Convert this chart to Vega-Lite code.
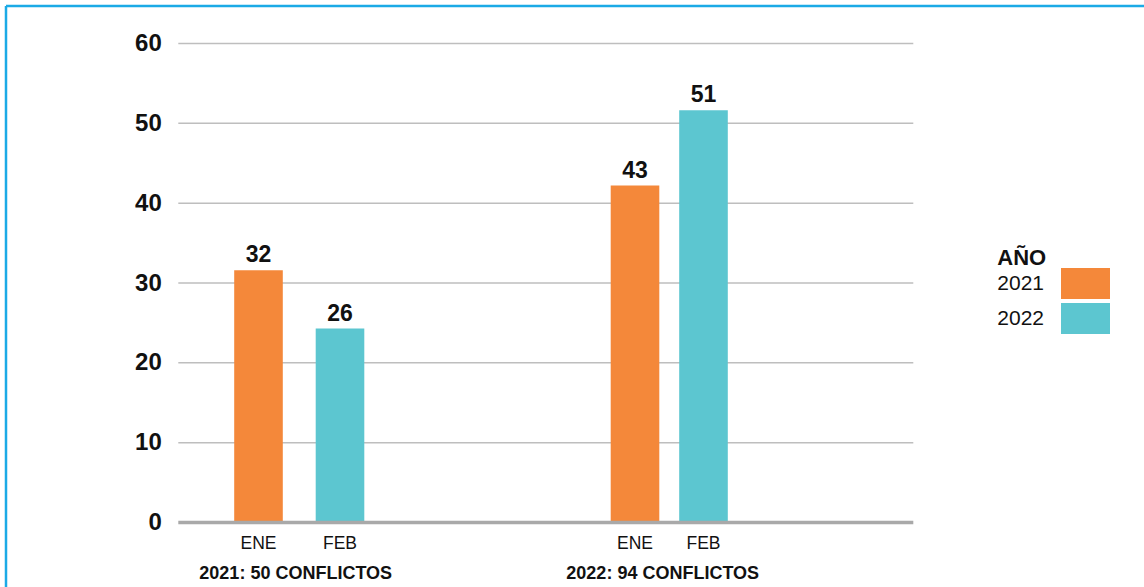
{
  "$schema": "https://vega.github.io/schema/vega-lite/v6.json",
  "usermeta": {"embedOptions": {"actions": false}},
  "width": 1138,
  "height": 581,
  "autosize": {"type": "none"},
  "padding": {"left": 6, "top": 6, "right": 0, "bottom": 0},
  "background": "white",
  "config": {
    "font": "Liberation Sans",
    "view": {"stroke": "#1BAAE6", "strokeWidth": 2.5, "strokeDash": [1138, 1719, 581, 0]},
    "text": {"color": "#111111"}
  },
  "datasets": {
    "barras": [
      {"grupo": "2021: 50 CONFLICTOS", "mes": "ENE", "valor": 31.6, "etiqueta": "32"},
      {"grupo": "2021: 50 CONFLICTOS", "mes": "FEB", "valor": 24.3, "etiqueta": "26"},
      {"grupo": "2022: 94 CONFLICTOS", "mes": "ENE", "valor": 42.2, "etiqueta": "43"},
      {"grupo": "2022: 94 CONFLICTOS", "mes": "FEB", "valor": 51.65, "etiqueta": "51"}
    ],
    "lineas": [{"valor": 10}, {"valor": 20}, {"valor": 30}, {"valor": 40}, {"valor": 50}, {"valor": 60}],
    "base": [{"valor": 0}],
    "grupos": [{"grupo": "2021: 50 CONFLICTOS"}, {"grupo": "2022: 94 CONFLICTOS"}]
  },
  "resolve": {"scale": {"x": "independent"}},
  "layer": [
    {
      "data": {"name": "lineas"},
      "mark": {"type": "rule", "color": "#BEBEBE", "strokeWidth": 1.5},
      "encoding": {
        "y": {
          "field": "valor",
          "type": "quantitative",
          "scale": {"domain": [0, 60], "range": [516.5, 37.5], "zero": true, "nice": false},
          "axis": {
            "orient": "left",
            "offset": -172.3,
            "values": [0, 10, 20, 30, 40, 50, 60],
            "title": null,
            "grid": false,
            "domain": false,
            "ticks": false,
            "tickSize": 0,
            "labelPadding": 17,
            "labelFontSize": 24,
            "labelFontWeight": "bold",
            "labelColor": "#111111",
            "labelFont": "Liberation Sans",
            "labelBaseline": "middle",
            "labelFlush": false,
            "labelOverlap": false,
            "labelBound": false
          }
        },
        "x": {"datum": 0, "type": "quantitative", "scale": {"domain": [0, 1], "range": [172.3, 907.3]}, "axis": null},
        "x2": {"datum": 1}
      }
    },
    {
      "data": {"name": "barras"},
      "transform": [{"filter": "datum.grupo == '2021: 50 CONFLICTOS'"}],
      "encoding": {
        "x": {"field": "mes", "type": "nominal", "scale": {"type": "point", "domain": ["ENE", "FEB"], "range": [252.5, 334], "padding": 0}, "axis": null}
      },
      "layer": [
        {
          "mark": {"type": "bar", "width": 48.6},
          "encoding": {
            "y": {"field": "valor", "type": "quantitative"},
            "color": {
              "field": "mes",
              "type": "nominal",
              "scale": {"domain": ["ENE", "FEB"], "range": ["#F4883A", "#5CC6D0"]},
              "legend": {
                "title": "AÑO",
                "orient": "none",
                "legendX": 991.3,
                "legendY": 242,
                "direction": "vertical",
                "padding": 0,
                "titleFont": "Liberation Sans",
                "titleFontSize": 22,
                "titleFontWeight": "bold",
                "titleColor": "#111111",
                "titlePadding": -2,
                "labelFont": "Liberation Sans",
                "labelFontSize": 21,
                "labelColor": "#111111",
                "labelExpr": "datum.label == 'ENE' ? '2021' : '2022'",
                "symbolType": "M-1.5806,-1H1.5806V1H-1.5806Z",
                "symbolSize": 961,
                "symbolStrokeWidth": 0,
                "symbolOpacity": 1,
                "symbolOffset": 72.7,
                "labelOffset": -103.7,
                "rowPadding": 4
              }
            }
          }
        },
        {
          "mark": {"type": "text", "baseline": "alphabetic", "dy": -8, "fontSize": 23, "fontWeight": "bold"},
          "encoding": {"y": {"field": "valor", "type": "quantitative"}, "text": {"field": "etiqueta"}}
        },
        {
          "mark": {"type": "text", "baseline": "alphabetic", "dy": 26.2, "fontSize": 17.5},
          "encoding": {"y": {"datum": 0, "type": "quantitative"}, "text": {"field": "mes"}}
        }
      ]
    },
    {
      "data": {"name": "barras"},
      "transform": [{"filter": "datum.grupo == '2022: 94 CONFLICTOS'"}],
      "encoding": {
        "x": {"field": "mes", "type": "nominal", "scale": {"type": "point", "domain": ["ENE", "FEB"], "range": [629, 697.5], "padding": 0}, "axis": null}
      },
      "layer": [
        {
          "mark": {"type": "bar", "width": 48.6},
          "encoding": {
            "y": {"field": "valor", "type": "quantitative"},
            "color": {"field": "mes", "type": "nominal"}
          }
        },
        {
          "mark": {"type": "text", "baseline": "alphabetic", "dy": -8, "fontSize": 23, "fontWeight": "bold"},
          "encoding": {"y": {"field": "valor", "type": "quantitative"}, "text": {"field": "etiqueta"}}
        },
        {
          "mark": {"type": "text", "baseline": "alphabetic", "dy": 26.2, "fontSize": 17.5},
          "encoding": {"y": {"datum": 0, "type": "quantitative"}, "text": {"field": "mes"}}
        }
      ]
    },
    {
      "data": {"name": "base"},
      "mark": {"type": "rule", "color": "#A9A9A9", "strokeWidth": 3.5},
      "encoding": {
        "y": {"field": "valor", "type": "quantitative"},
        "x": {"datum": 0, "type": "quantitative", "scale": {"domain": [0, 1], "range": [172.3, 907.3]}, "axis": null},
        "x2": {"datum": 1}
      }
    },
    {
      "data": {"name": "grupos"},
      "mark": {"type": "text", "baseline": "alphabetic", "dy": 56.8, "fontSize": 18, "fontWeight": "bold"},
      "encoding": {
        "x": {"field": "grupo", "type": "nominal", "scale": {"type": "point", "domain": ["2021: 50 CONFLICTOS", "2022: 94 CONFLICTOS"], "range": [289.7, 656.7], "padding": 0}, "axis": null},
        "y": {"datum": 0, "type": "quantitative"},
        "text": {"field": "grupo"}
      }
    }
  ]
}
